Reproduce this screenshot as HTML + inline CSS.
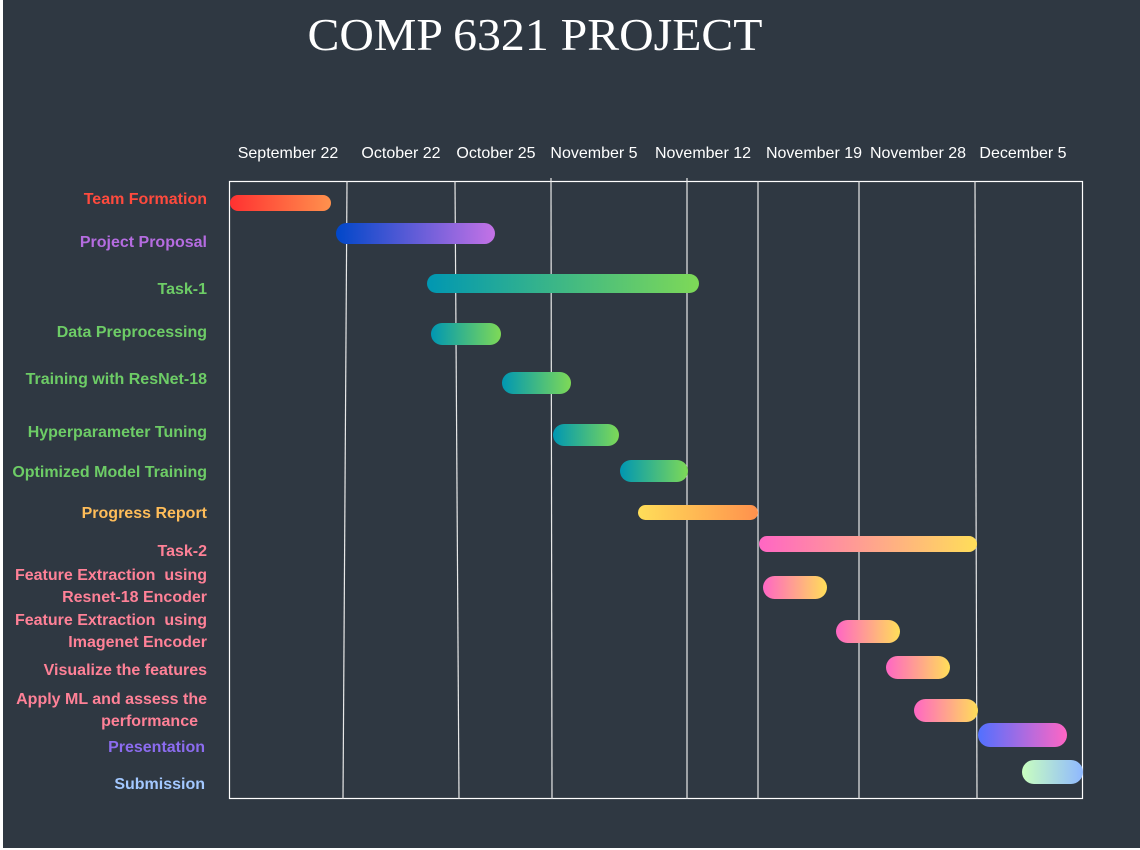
<!DOCTYPE html>
<html><head><style>
html,body{margin:0;padding:0;background:#fff;}
svg{display:block;}
text{font-family:"Liberation Sans",sans-serif;}
</style></head><body>
<svg width="1140" height="850" xmlns="http://www.w3.org/2000/svg">
<defs>
<linearGradient id="g1"><stop offset="0" stop-color="#ff3131"/><stop offset="1" stop-color="#ff914d"/></linearGradient>
<linearGradient id="g2"><stop offset="0" stop-color="#0047c9"/><stop offset="1" stop-color="#c472e6"/></linearGradient>
<linearGradient id="g3"><stop offset="0" stop-color="#0097b2"/><stop offset="1" stop-color="#7ed957"/></linearGradient>
<linearGradient id="g4"><stop offset="0" stop-color="#ffde59"/><stop offset="1" stop-color="#ff914d"/></linearGradient>
<linearGradient id="g5"><stop offset="0" stop-color="#ff66c4"/><stop offset="1" stop-color="#ffde59"/></linearGradient>
<linearGradient id="g6"><stop offset="0" stop-color="#5170ff"/><stop offset="1" stop-color="#ff66c4"/></linearGradient>
<linearGradient id="g7"><stop offset="0" stop-color="#c9ffbf"/><stop offset="1" stop-color="#8fb8ff"/></linearGradient>
</defs>
<rect x="0" y="0" width="1140" height="850" fill="#ffffff"/>
<rect x="3" y="0" width="1137" height="848" fill="#2f3842"/>
<text x="535" y="50" text-anchor="middle" font-size="46" fill="#fff" style="font-family:'Liberation Serif',serif" textLength="455" lengthAdjust="spacingAndGlyphs">COMP 6321 PROJECT</text>
<g font-size="16" fill="#fff" text-anchor="middle">
<text x="288" y="158">September 22</text>
<text x="401" y="158">October 22</text>
<text x="496" y="158">October 25</text>
<text x="594" y="158">November 5</text>
<text x="703" y="158">November 12</text>
<text x="814" y="158">November 19</text>
<text x="918" y="158">November 28</text>
<text x="1023" y="158">December 5</text>
</g>
<rect x="229.5" y="181.5" width="853" height="617" fill="none" stroke="#fff" stroke-width="1.2"/>
<g stroke="#e8e8e8" stroke-width="1.2">
<line x1="347" y1="181" x2="343" y2="799"/>
<line x1="455" y1="181" x2="459" y2="799"/>
<line x1="551" y1="178" x2="552" y2="799"/>
<line x1="687" y1="178" x2="687" y2="799"/>
<line x1="758" y1="181" x2="758" y2="799"/>
<line x1="859" y1="181" x2="859" y2="799"/>
<line x1="975" y1="181" x2="977" y2="799"/>
</g>
<g>
<rect x="230" y="195" width="101" height="16" rx="8" fill="url(#g1)"/>
<rect x="336" y="223" width="159" height="21" rx="10.5" fill="url(#g2)"/>
<rect x="427" y="274" width="272" height="19" rx="9.5" fill="url(#g3)"/>
<rect x="431" y="323" width="70" height="22" rx="11" fill="url(#g3)"/>
<rect x="502" y="372" width="69" height="22" rx="11" fill="url(#g3)"/>
<rect x="553" y="424" width="66" height="22" rx="11" fill="url(#g3)"/>
<rect x="620" y="460" width="68" height="22" rx="11" fill="url(#g3)"/>
<rect x="638" y="505" width="120" height="15" rx="7.5" fill="url(#g4)"/>
<rect x="759" y="536" width="218" height="16" rx="8" fill="url(#g5)"/>
<rect x="763" y="576" width="64" height="23" rx="11.5" fill="url(#g5)"/>
<rect x="836" y="620" width="64" height="23" rx="11.5" fill="url(#g5)"/>
<rect x="886" y="656" width="64" height="23" rx="11.5" fill="url(#g5)"/>
<rect x="914" y="699" width="64" height="23" rx="11.5" fill="url(#g5)"/>
<rect x="978" y="723" width="89" height="24" rx="12" fill="url(#g6)"/>
<rect x="1022" y="760" width="61" height="24" rx="12" fill="url(#g7)"/>
</g>
<g font-size="16" font-weight="bold" text-anchor="end">
<text x="207" y="204" fill="#ff4a3d">Team Formation</text>
<text x="207" y="247" fill="#b56ce0">Project Proposal</text>
<text x="207" y="294" fill="#6dcc66">Task-1</text>
<text x="207" y="337" fill="#6dcc66">Data Preprocessing</text>
<text x="207" y="384" fill="#6dcc66">Training with ResNet-18</text>
<text x="207" y="437" fill="#6dcc66">Hyperparameter Tuning</text>
<text x="207" y="477" fill="#6dcc66">Optimized Model Training</text>
<text x="207" y="518" fill="#ffbd59">Progress Report</text>
<text x="207" y="556" fill="#ff8197">Task-2</text>
<text x="207" y="580" fill="#ff8197" xml:space="preserve">Feature Extraction  using</text>
<text x="207" y="602" fill="#ff8197">Resnet-18 Encoder</text>
<text x="207" y="625" fill="#ff8197" xml:space="preserve">Feature Extraction  using</text>
<text x="207" y="647" fill="#ff8197">Imagenet Encoder</text>
<text x="207" y="675" fill="#ff8197">Visualize the features</text>
<text x="207" y="704" fill="#ff8197">Apply ML and assess the</text>
<text x="198" y="726" fill="#ff8197">performance</text>
<text x="205" y="752" fill="#8c6cf0">Presentation</text>
<text x="205" y="789" fill="#a3c8ff">Submission</text>
</g>
</svg>
</body></html>
